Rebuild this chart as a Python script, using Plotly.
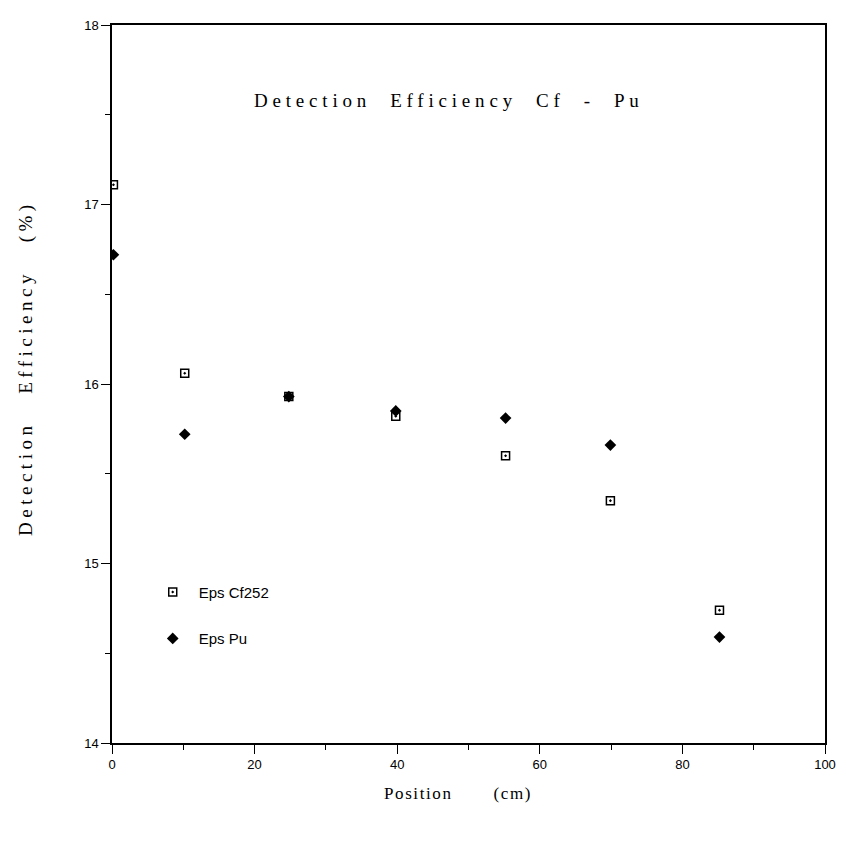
import plotly.graph_objects as go

positions = [0.2, 10.2, 24.8, 39.8, 55.2, 69.9, 85.2]
eps_cf252 = [17.11, 16.06, 15.93, 15.82, 15.60, 15.35, 14.74]
eps_pu = [16.72, 15.72, 15.93, 15.85, 15.81, 15.66, 14.59]

x_ticks = [0, 20, 40, 60, 80, 100]
y_ticks = [14, 15, 16, 17, 18]

fig = go.Figure()
fig.add_trace(go.Scatter(
    x=positions, y=eps_cf252, mode="markers", name="Eps Cf252",
    legendgroup="a",
    marker=dict(symbol="square-open-dot", size=8, color="black",
                line=dict(width=1.5, color="black")),
))
fig.add_trace(go.Scatter(
    x=positions, y=eps_pu, mode="markers", name="Eps Pu",
    legendgroup="b",
    marker=dict(symbol="diamond", size=9, color="black"),
))

sans = "Liberation Sans, Arial, sans-serif"
serif = "Liberation Serif, Times New Roman, serif"

axis_common = dict(
    showgrid=False, zeroline=False, showline=True, linecolor="black",
    linewidth=1.5, mirror=True, ticks="outside", ticklen=9,
    tickcolor="black", tickwidth=1,
    tickfont=dict(family=sans, size=13, color="black"),
)

fig.update_xaxes(range=[0, 100], tickvals=x_ticks, ticktext=[str(v) for v in x_ticks],
                 minor=dict(dtick=10, ticks="outside", ticklen=5, tickcolor="black"),
                 **axis_common)
fig.update_yaxes(range=[14, 18], tickvals=y_ticks, ticktext=[str(v) for v in y_ticks],
                 minor=dict(dtick=0.5, ticks="outside", ticklen=5, tickcolor="black"),
                 **axis_common)

title_text = "Detection&nbsp;&nbsp;Efficiency&nbsp;&nbsp;Cf&nbsp;&nbsp;-&nbsp;&nbsp;Pu"
x_title = "Position" + "&nbsp;" * 7 + "(cm)"
y_title = "Detection&nbsp;&nbsp;&nbsp;Efficiency&nbsp;&nbsp;&nbsp;(%)"

fig.add_annotation(text=f"<span style='letter-spacing:4.8px'>{title_text}</span>",
                   xref="paper", yref="paper", x=0.473, y=0.895,
                   xanchor="center", yanchor="middle", showarrow=False,
                   font=dict(family=serif, size=19, color="black"))
fig.add_annotation(text=f"<span style='letter-spacing:1.6px'>{x_title}</span>",
                   xref="paper", yref="paper", x=0.485, y=-0.070,
                   xanchor="center", yanchor="middle",
                   showarrow=False, font=dict(family=serif, size=17, color="black"))
fig.add_annotation(text=f"<span style='letter-spacing:4.5px'>{y_title}</span>",
                   xref="paper", yref="paper", x=-0.121, y=0.522, textangle=-90,
                   xanchor="center", yanchor="middle",
                   showarrow=False, font=dict(family=serif, size=19, color="black"))

# the page body adds an 8px offset, so the figure is sized to fit the window
fig.update_layout(
    width=838, height=851,
    margin=dict(l=104, r=16, t=10, b=116),
    plot_bgcolor="white", paper_bgcolor="white",
    showlegend=True,
    legend=dict(x=0.0487, y=0.233, xanchor="left", yanchor="top",
                bgcolor="rgba(0,0,0,0)", tracegroupgap=24, itemwidth=42,
                font=dict(family=sans, size=15, color="black")),
)

fig.write_html("out.html")
